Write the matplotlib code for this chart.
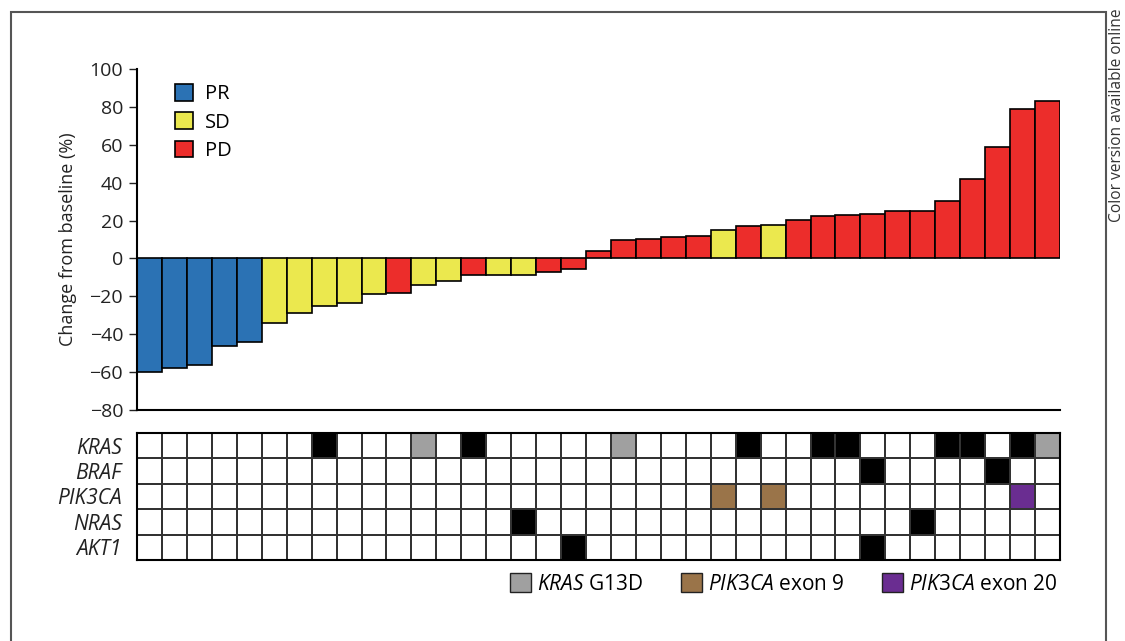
import numpy as np
import matplotlib
matplotlib.use("Agg")
import matplotlib.pyplot as plt
from matplotlib.colors import ListedColormap
from matplotlib.patches import Patch, Rectangle

plt.rcParams["font.family"] = ["Open Sans", "DejaVu Sans"]
plt.rcParams["mathtext.fontset"] = "custom"
plt.rcParams["mathtext.it"] = "Open Sans:italic"
plt.rcParams["mathtext.rm"] = "Open Sans"

# best % change from baseline, one bar per patient (sorted)
change = [-60, -58, -56.5, -46, -44, -34, -29, -25, -23.5, -19, -18.5, -14, -12,
          -9, -9, -8.5, -7, -5.5, 3.7, 9.5, 10.2, 11.1, 11.8, 15.1, 17.2, 17.9,
          20.2, 22.3, 23, 23.7, 25, 25, 30.2, 41.7, 58.8, 78.9, 83.1]
response = (["PR"] * 5 + ["SD"] * 5 + ["PD"] + ["SD"] * 2 + ["PD"] + ["SD"] * 2
            + ["PD"] * 7 + ["SD", "PD", "SD"] + ["PD"] * 11)

genes = ["KRAS", "BRAF", "PIK3CA", "NRAS", "AKT1"]
# mutated patient columns per gene (black = mutated)
kras_mut = [7, 13, 24, 27, 28, 32, 33, 35]
kras_g13d = [11, 19, 36]
braf_mut = [29, 34]
pik3ca_ex9 = [23, 25]
pik3ca_ex20 = [35]
nras_mut = [15, 31]
akt1_mut = [17, 29]

RESP_COL = {"PR": "#2b72b4", "SD": "#ebe84e", "PD": "#ec2d2b"}
GREY, BROWN, PURPLE = "#a0a0a0", "#9a7449", "#6a2d91"
INK = "#222222"

n = len(change)
codes = np.zeros((len(genes), n), dtype=int)
codes[0, kras_mut] = 1
codes[0, kras_g13d] = 2
codes[1, braf_mut] = 1
codes[2, pik3ca_ex9] = 3
codes[2, pik3ca_ex20] = 4
codes[3, nras_mut] = 1
codes[4, akt1_mut] = 1

fig = plt.figure(figsize=(11.25, 6.41), dpi=100)
ax = fig.add_axes([137 / 1125, 1 - 410 / 641, 923 / 1125, 341 / 641])
ax2 = fig.add_axes([137 / 1125, 1 - 560 / 641, 923 / 1125, 127 / 641])

x = np.arange(n)
ax.bar(x, change, width=1.0, color=[RESP_COL[r] for r in response],
       edgecolor="black", linewidth=1.2)
ax.set_xlim(-0.5, n - 0.5)
ax.set_ylim(-80, 100)
ax.set_yticks(range(-80, 101, 20))
ax.set_xticks([])
for s in ("top", "right"):
    ax.spines[s].set_visible(False)
ax.spines["left"].set_linewidth(1.5)
ax.spines["bottom"].set_linewidth(1.5)
ax.tick_params(axis="y", labelsize=14, length=6, width=1, colors=INK, pad=4)
ax.set_ylabel("Change from baseline (%)", fontsize=13, color=INK)
ax.yaxis.set_label_coords((77 - 137) / 923, 0.5)
handles = [Patch(facecolor=RESP_COL[k], edgecolor="black", linewidth=1.2, label=k)
           for k in ("PR", "SD", "PD")]
ax.legend(handles=handles, loc="upper left", bbox_to_anchor=((175 - 137) / 923, (410 - 84) / 341),
          frameon=False, fontsize=14.5, handlelength=0.9, handleheight=0.9,
          labelspacing=0.4, handletextpad=0.6, borderpad=0, borderaxespad=0)

cmap = ListedColormap(["white", "black", GREY, BROWN, PURPLE])
ax2.pcolormesh(np.arange(n + 1) - 0.5, np.arange(len(genes) + 1), codes, cmap=cmap,
               vmin=-0.5, vmax=4.5, edgecolors="#333333", linewidth=1.2)
ax2.set_xlim(-0.5, n - 0.5)
ax2.set_ylim(len(genes), 0)
ax2.set_xticks([])
ax2.set_yticks(np.arange(len(genes)) + 0.5)
ax2.set_yticklabels(genes, fontstyle="italic", fontsize=15, color=INK)
ax2.tick_params(axis="y", length=0, pad=11)
for s in ax2.spines.values():
    s.set_linewidth(1.5)

mut_handles = [Patch(facecolor=GREY, edgecolor=INK, label=r"$\mathit{KRAS}$ G13D"),
               Patch(facecolor=BROWN, edgecolor=INK, label=r"$\mathit{PIK3CA}$ exon 9"),
               Patch(facecolor=PURPLE, edgecolor=INK, label=r"$\mathit{PIK3CA}$ exon 20")]
fig.legend(handles=mut_handles, loc="center right", bbox_to_anchor=(1058 / 1125, 1 - 584 / 641),
           ncol=3, frameon=False, fontsize=15, handlelength=1.0, handleheight=1.0,
           handletextpad=0.3, columnspacing=1.8, borderaxespad=0, borderpad=0)

fig.add_artist(Rectangle((11 / 1125, -0.05), (1106 - 11) / 1125, 1.05 - 12 / 641,
                         transform=fig.transFigure, fill=False, edgecolor="#555555",
                         linewidth=1.5, clip_on=False))
fig.text(1117 / 1125, 1 - 9 / 641, "Color version available online", rotation=90,
         ha="center", va="top", fontsize=11.2, color="#333333")

fig.savefig("out.png", dpi=100)
